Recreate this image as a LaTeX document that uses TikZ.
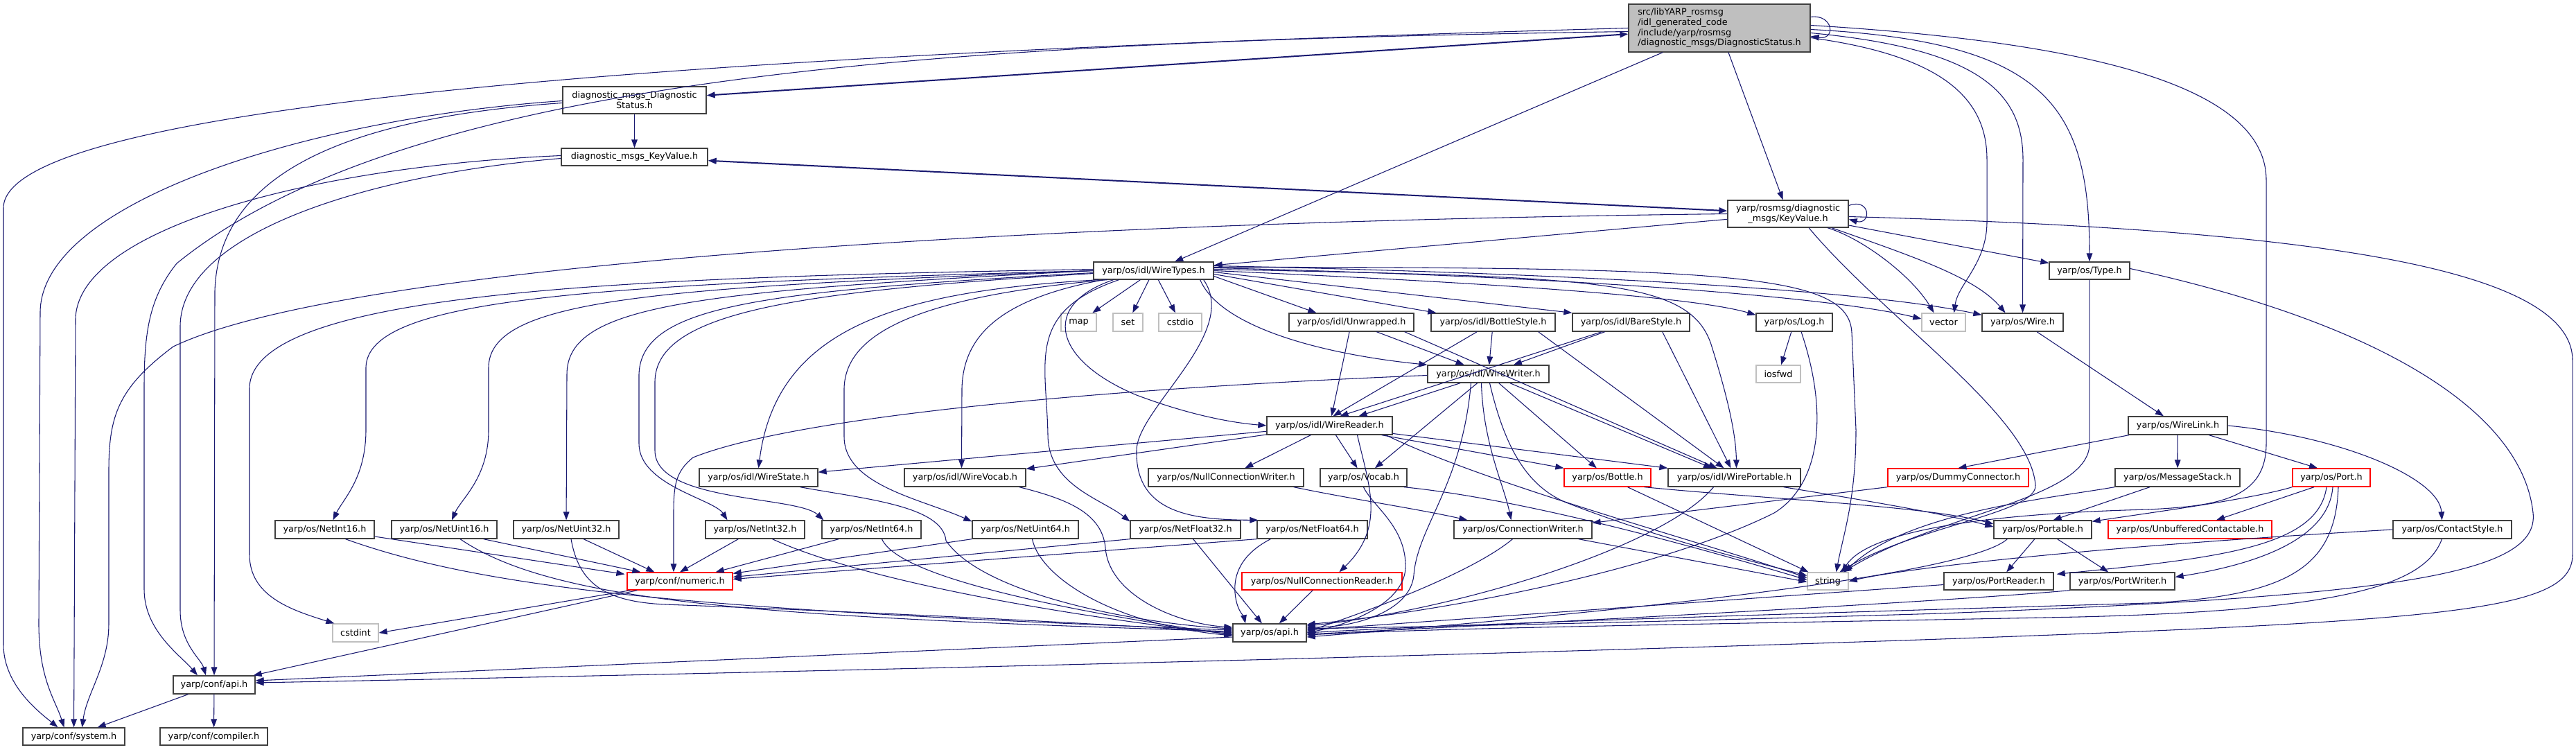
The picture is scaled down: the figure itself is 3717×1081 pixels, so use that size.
\documentclass[tikz,border=0pt]{standalone}
\usepackage{fontspec}
\setmainfont{DejaVu Sans}
\usetikzlibrary{arrows.meta,calc}
\definecolor{edgec}{HTML}{191970}
\definecolor{bord}{HTML}{404040}
\definecolor{lite}{HTML}{BFBFBF}
\tikzset{
 nbox/.style={draw=bord, fill=white, line width=1pt, inner sep=0pt, font=\fontsize{9.6}{11}\selectfont, align=center},
 rbox/.style={nbox, fill=lite, align=left},
 gbox/.style={nbox, draw=lite},
 xbox/.style={nbox, draw=red},
 edg/.style={draw=edgec, line width=0.8pt, -{Triangle[length=9pt,width=6.5pt]}},
 edgb/.style={draw=edgec, line width=1.5pt, {Triangle[length=9pt,width=6.5pt]}-{Triangle[length=9pt,width=6.5pt]}},
}
\newcommand\nd[7]{\node[#6, minimum width={(#4-#2)*0.75pt}, minimum height={(#5-#3)*0.75pt}] (#1) at ({(#2+#4)/2},{(#3+#5)/2}) {#7};}
\begin{document}
\begin{tikzpicture}[x=0.75pt,y=-0.75pt]
\useasboundingbox[fill=white] (0,0) rectangle (3717,1081);
% nodes
\nd{root}{2350}{6}{2612}{75}{rbox}{src/libYARP\_rosmsg\\/idl\_generated\_code\\/include/yarp/rosmsg\\/diagnostic\_msgs/DiagnosticStatus.h}
\nd{DS}{812}{125}{1019}{164}{nbox}{diagnostic\_msgs\_Diagnostic\\Status.h}
\nd{KV}{810}{214}{1021}{239}{nbox}{diagnostic\_msgs\_KeyValue.h}
\nd{KR}{2493}{289}{2667}{328}{nbox}{yarp/rosmsg/diagnostic\\\_msgs/KeyValue.h}
\nd{WT}{1578}{378}{1751}{403}{nbox}{yarp/os/idl/WireTypes.h}
\nd{Type}{2957}{378}{3073}{403}{nbox}{yarp/os/Type.h}
\nd{map}{1531}{452}{1582}{478}{gbox}{map}
\nd{set}{1606}{452}{1649}{478}{gbox}{set}
\nd{cstdio}{1672}{452}{1734}{478}{gbox}{cstdio}
\nd{Unw}{1860}{452}{2040}{478}{nbox}{yarp/os/idl/Unwrapped.h}
\nd{BotS}{2065}{452}{2244}{478}{nbox}{yarp/os/idl/BottleStyle.h}
\nd{BareS}{2269}{452}{2438}{478}{nbox}{yarp/os/idl/BareStyle.h}
\nd{Log}{2534}{452}{2644}{478}{nbox}{yarp/os/Log.h}
\nd{vector}{2773}{452}{2836}{478}{gbox}{vector}
\nd{Wire}{2860}{452}{2977}{478}{nbox}{yarp/os/Wire.h}
\nd{WW}{2060}{527}{2235}{552}{nbox}{yarp/os/idl/WireWriter.h}
\nd{iosfwd}{2534}{527}{2598}{552}{gbox}{iosfwd}
\nd{WR}{1828}{601}{2009}{627}{nbox}{yarp/os/idl/WireReader.h}
\nd{WL}{3071}{601}{3214}{627}{nbox}{yarp/os/WireLink.h}
\nd{WS}{1009}{676}{1180}{702}{nbox}{yarp/os/idl/WireState.h}
\nd{WV}{1305}{676}{1480}{702}{nbox}{yarp/os/idl/WireVocab.h}
\nd{NCW}{1657}{676}{1881}{702}{nbox}{yarp/os/NullConnectionWriter.h}
\nd{Vocab}{1905}{676}{2030}{702}{nbox}{yarp/os/Vocab.h}
\nd{Bottle}{2257}{676}{2382}{702}{xbox}{yarp/os/Bottle.h}
\nd{WP}{2407}{676}{2598}{702}{nbox}{yarp/os/idl/WirePortable.h}
\nd{Dummy}{2724}{676}{2927}{702}{xbox}{yarp/os/DummyConnector.h}
\nd{MS}{3052}{676}{3232}{702}{nbox}{yarp/os/MessageStack.h}
\nd{Port}{3308}{676}{3420}{702}{xbox}{yarp/os/Port.h}
\nd{NIa}{397}{751}{540}{777}{nbox}{yarp/os/NetInt16.h}
\nd{NUa}{565}{751}{717}{777}{nbox}{yarp/os/NetUint16.h}
\nd{NUb}{741}{751}{893}{777}{nbox}{yarp/os/NetUint32.h}
\nd{NIb}{1018}{751}{1161}{777}{nbox}{yarp/os/NetInt32.h}
\nd{NIc}{1186}{751}{1329}{777}{nbox}{yarp/os/NetInt64.h}
\nd{NUc}{1403}{751}{1556}{777}{nbox}{yarp/os/NetUint64.h}
\nd{NFa}{1631}{751}{1790}{777}{nbox}{yarp/os/NetFloat32.h}
\nd{NFb}{1814}{751}{1973}{777}{nbox}{yarp/os/NetFloat64.h}
\nd{CW}{2098}{751}{2297}{777}{nbox}{yarp/os/ConnectionWriter.h}
\nd{Portable}{2877}{751}{3018}{777}{nbox}{yarp/os/Portable.h}
\nd{Unbuf}{3042}{751}{3278}{777}{xbox}{yarp/os/UnbufferedContactable.h}
\nd{CS}{3453}{751}{3624}{777}{nbox}{yarp/os/ContactStyle.h}
\nd{numeric}{905}{826}{1057}{851}{xbox}{yarp/conf/numeric.h}
\nd{NCR}{1792}{826}{2023}{851}{xbox}{yarp/os/NullConnectionReader.h}
\nd{string}{2608}{826}{2667}{851}{gbox}{string}
\nd{PR}{2805}{826}{2963}{851}{nbox}{yarp/os/PortReader.h}
\nd{PW}{2987}{826}{3138}{851}{nbox}{yarp/os/PortWriter.h}
\nd{cstdint}{480}{900}{546}{926}{gbox}{cstdint}
\nd{osapi}{1779}{900}{1885}{926}{nbox}{yarp/os/api.h}
\nd{confapi}{250}{975}{368}{1001}{nbox}{yarp/conf/api.h}
\nd{system}{33}{1050}{180}{1075}{nbox}{yarp/conf/system.h}
\nd{compiler}{231}{1050}{386}{1075}{nbox}{yarp/conf/compiler.h}
% ---- edges: root
\draw[edgb] (DS) -- (root);
\draw[edg] (root.west) .. controls (1300,70) and (5,130) .. (5,300) -- (5,930) .. controls (5,990) and (60,1030) .. ($(system.north)+(-23,0)$);
\draw[edg] ($(root.west)+(0,5)$) .. controls (1400,60) and (600,100) .. (255,380) .. controls (215,430) and (208,480) .. (208,560) -- (208,850) .. controls (208,910) and (260,945) .. ($(confapi.north)+(-24,0)$);
\draw[edg] (root) -- (WT);
\draw[edg] (root) -- (KR);
\draw[edg] ($(root.east)+(0,-16)$) .. controls (2645,20) and (2650,58) .. ($(root.east)+(0,12)$);
\draw[edg] ($(root.east)+(0,2)$) .. controls (2950,60) and (3015,150) .. (Type.north);
\draw[edg] ($(root.east)+(0,7)$) .. controls (2850,70) and (2919,130) .. (2919,230) -- (Wire.north);
\draw[edg] ($(root.east)+(0,14)$) .. controls (2800,80) and (2867,140) .. (2867,230) -- (2867,320) .. controls (2867,380) and (2825,410) .. ($(vector.north)+(15,0)$);
\draw[edg] ($(root.east)+(0,-4)$) .. controls (3000,60) and (3270,120) .. (3270,260) -- (3270,640) .. controls (3270,720) and (3200,730) .. (3100,735) .. controls (2900,740) and (2700,760) .. ($(string.north)+(20,0)$);
% DS
\draw[edg] (DS) -- (KV);
\draw[edg] ($(DS.west)+(0,1)$) .. controls (450,170) and (60,290) .. (58,450) -- (56,900) .. controls (56,980) and (80,1010) .. ($(system.north)+(-14,0)$);
\draw[edg] ($(DS.west)+(0,4)$) .. controls (500,170) and (315,250) .. (310,420) -- (confapi);
% KV
\draw[edgb] (KV) -- (KR);
\draw[edg] ($(KV.west)+(0,-2)$) .. controls (450,240) and (112,330) .. (109,460) -- (system);
\draw[edg] ($(KV.west)+(0,2)$) .. controls (550,250) and (262,330) .. (260,470) -- (260,880) .. controls (260,930) and (290,950) .. ($(confapi.north)+(-12,0)$);
% KR
\draw[edg] ($(KR.east)+(0,-12)$) .. controls (2700,285) and (2700,325) .. ($(KR.east)+(0,8)$);
\draw[edg] (KR) -- (WT);
\draw[edg] (KR.west) .. controls (1500,320) and (500,380) .. (250,500) .. controls (170,560) and (157,600) .. (157,680) -- (157,900) .. controls (157,960) and (125,1000) .. ($(system.north)+(12,0)$);
\draw[edg] ($(KR.east)+(0,4)$) .. controls (3300,330) and (3712,380) .. (3712,520) -- (3712,800) .. controls (3712,880) and (3550,895) .. (2800,922) .. controls (2000,950) and (900,975) .. ($(confapi.east)+(0,-3)$);
\draw[edg] (KR) -- (Type);
\draw[edg] ($(KR.south)+(57,0)$) .. controls (2690,345) and (2760,400) .. ($(vector.north)+(-14,0)$);
\draw[edg] ($(KR.south)+(63,0)$) .. controls (2760,370) and (2850,400) .. ($(Wire.north)+(-25,0)$);
\draw[edg] ($(KR.south)+(30,0)$) .. controls (2720,460) and (2930,600) .. (2937,700) .. controls (2940,740) and (2760,760) .. ($(string.north)+(17,0)$);
% WT
\draw[edg] (WT) -- (map);
\draw[edg] (WT) -- (set);
\draw[edg] (WT) -- (cstdio);
\draw[edg] ($(WT.south)+(-58,0)$) .. controls (1500,440) and (1520,520) .. (1640,570) .. controls (1720,600) and (1780,610) .. (WR.west);
\draw[edg] ($(WT.south west)+(8,0)$) .. controls (1300,420) and (1120,470) .. (WS.north);
\draw[edg] ($(WT.south west)+(15,0)$) .. controls (1450,430) and (1390,480) .. (1388,560) -- ($(WV.north)+(-5,0)$);
\draw[edg] ($(WT.west)+(0,-2)$) .. controls (900,400) and (362,420) .. (360,560) -- (360,800) .. controls (360,860) and (420,880) .. ($(cstdint.north west)+(3,0)$);
\draw[edg] (WT.west) .. controls (850,410) and (530,430) .. (528,530) -- (528,620) .. controls (528,690) and (495,720) .. ($(NIa.north)+(12,0)$);
\draw[edg] (WT.west) .. controls (950,415) and (706,430) .. (705,530) -- (705,620) .. controls (705,690) and (665,720) .. ($(NUa.north)+(11,0)$);
\draw[edg] (WT.west) .. controls (1000,420) and (818,440) .. (818,540) -- (NUb);
\draw[edg] ($(WT.west)+(0,3)$) .. controls (1100,420) and (925,440) .. (922,540) -- (922,640) .. controls (922,700) and (1030,720) .. ($(NIb.north)+(-40,0)$);
\draw[edg] ($(WT.west)+(0,4)$) .. controls (1150,420) and (947,450) .. (945,550) -- (945,650) .. controls (945,725) and (1150,715) .. ($(NIc.north west)+(3,0)$);
\draw[edg] ($(WT.south west)+(20,0)$) .. controls (1300,430) and (1220,490) .. (1218,560) -- (1218,630) .. controls (1218,700) and (1330,720) .. ($(NUc.north west)+(0,2)$);
\draw[edg] ($(WT.south)+(-50,0)$) .. controls (1480,450) and (1510,520) .. (1512,627) .. controls (1512,700) and (1590,720) .. ($(NFa.north west)+(0,2)$);
\draw[edg] ($(WT.south east)+(-15,0)$) .. controls (1790,480) and (1640,590) .. (1640,650) .. controls (1638,740) and (1720,750) .. ($(NFb.north west)+(2,0)$);
\draw[edg] ($(WT.east)+(0,8)$) -- ($(Unw.north west)+(40,0)$);
\draw[edg] ($(WT.east)+(0,5)$) -- ($(BotS.north west)+(8,0)$);
\draw[edg] ($(WT.east)+(0,2)$) -- (BareS.north west);
\draw[edg] ($(WT.east)+(0,0)$) .. controls (2200,410) and (2450,430) .. ($(Log.north west)+(0,3)$);
\draw[edg] ($(WT.east)+(0,-4)$) .. controls (2300,400) and (2650,430) .. ($(vector.west)+(0,-5)$);
\draw[edg] ($(WT.east)+(0,-7)$) .. controls (2300,395) and (2700,420) .. ($(Wire.north west)+(0,3)$);
\draw[edg] ($(WT.south east)+(-20,0)$) .. controls (1760,470) and (1900,510) .. (WW.north west);
\draw[edg] ($(WT.east)+(0,-2)$) .. controls (2300,400) and (2440,400) .. (2470,500) .. controls (2495,580) and (2505,630) .. ($(WP.north)+(3,0)$);
\draw[edg] ($(WT.east)+(0,-5)$) .. controls (2500,385) and (2668,395) .. (2672,480) -- (2678,620) .. controls (2678,720) and (2660,770) .. ($(string.north)+(12,0)$);
% style headers
\draw[edg] (Unw) -- (WR);
\draw[edg] (Unw) -- (WW);
\draw[edg] ($(Unw.south east)+(-14,0)$) -- ($(WP.north)+(-25,0)$);
\draw[edg] (BotS) -- ($(WR.north)+(5,0)$);
\draw[edg] (BotS) -- (WW);
\draw[edg] ($(BotS.south east)+(-25,0)$) -- ($(WP.north)+(-15,0)$);
\draw[edg] (BareS) -- ($(WR.north)+(15,0)$);
\draw[edg] (BareS) -- (WW);
\draw[edg] ($(BareS.south east)+(-40,0)$) -- ($(WP.north)+(-5,0)$);
\draw[edg] (Log) -- (iosfwd);
\draw[edg] ($(Log.south)+(10,0)$) .. controls (2640,600) and (2625,700) .. (2560,740) .. controls (2400,820) and (2100,880) .. ($(osapi.east)+(0,-12)$);
% WireWriter
\draw[edg] (WW) -- (WR);
\draw[edg] (WW) -- (Vocab);
\draw[edg] (WW) -- (Bottle);
\draw[edg] (WW) -- (WP);
\draw[edg] ($(WW.west)+(0,2)$) .. controls (1600,560) and (1150,600) .. (1000,660) .. controls (975,680) and (972,700) .. (972,740) -- ($(numeric.north)+(-9,0)$);
\draw[edg] ($(WW.south)+(-10,0)$) .. controls (2140,640) and (2170,700) .. ($(CW.north)+(-17,0)$);
\draw[edg] ($(WW.south)+(-25,0)$) .. controls (2110,700) and (2045,760) .. (2040,830) .. controls (2035,880) and (1960,905) .. ($(osapi.east)+(0,-8)$);
\draw[edg] ($(WW.south)+(2,0)$) .. controls (2170,640) and (2200,700) .. (2260,725) .. controls (2400,780) and (2550,815) .. ($(string.west)+(0,-8)$);
% WireReader
\draw[edg] (WR) -- (WS);
\draw[edg] (WR) -- (WV);
\draw[edg] (WR) -- (NCW);
\draw[edg] (WR) -- (Vocab);
\draw[edg] (WR) -- (Bottle.north west);
\draw[edg] (WR) -- (WP.north west);
\draw[edg] ($(WR.south)+(40,0)$) .. controls (1975,700) and (2000,760) .. ($(NCR.north)+(25,0)$);
\draw[edg] ($(WR.south east)+(-10,0)$) .. controls (2150,700) and (2450,780) .. ($(string.west)+(0,-5)$);
% other mid
\draw[edg] (Wire) -- (WL);
\draw[edg] (WL) -- (Dummy.north);
\draw[edg] (WL) -- (MS);
\draw[edg] (WL) -- ($(Port.north)+(-20,0)$);
\draw[edg] (WL.east) .. controls (3380,630) and (3520,690) .. ($(CS.north)+(-15,0)$);
\draw[edg] (Type.south) -- (3015,640) .. controls (3015,720) and (2800,740) .. ($(string.north)+(22,0)$);
\draw[edg] ($(Type.east)+(0,-3)$) .. controls (3450,470) and (3640,600) .. (3655,740) .. controls (3665,830) and (3450,860) .. (2800,885) .. controls (2300,900) and (2000,905) .. ($(osapi.east)+(0,-6)$);
\draw[edg] ($(NCW.south east)+(-15,0)$) .. controls (1950,720) and (2050,735) .. ($(CW.north west)+(20,0)$);
\draw[edg] (Vocab.south) .. controls (1980,730) and (2030,760) .. (2028,820) .. controls (2025,870) and (1950,900) .. (osapi.east);
\draw[edg] ($(Vocab.south east)+(-5,0)$) .. controls (2200,720) and (2450,790) .. ($(string.west)+(0,-2)$);
\draw[edg] (Bottle) -- (string);
\draw[edg] ($(Bottle.south east)+(-10,0)$) .. controls (2550,720) and (2780,730) .. ($(Portable.west)+(0,-8)$);
\draw[edg] ($(WP.south east)+(-25,0)$) .. controls (2680,720) and (2800,740) .. ($(Portable.west)+(0,-4)$);
\draw[edg] ($(WP.south)+(-30,0)$) .. controls (2400,790) and (2100,880) .. ($(osapi.east)+(0,-10)$);
\draw[edg] (Dummy.south west) -- ($(CW.north east)+(0,4)$);
\draw[edg] (MS) -- ($(Portable.north)+(15,0)$);
\draw[edg] (MS.south west) .. controls (2950,720) and (2750,740) .. ($(string.north)+(24,0)$);
\draw[edg] (Port.south west) .. controls (3250,720) and (3100,740) .. ($(Portable.north east)+(0,2)$);
\draw[edg] ($(Port.south)+(-25,0)$) -- ($(Unbuf.north)+(38,0)$);
\draw[edg] ($(Port.south)+(-7,0)$) .. controls (3345,790) and (3200,805) .. ($(PR.north east)+(4,3)$);
\draw[edg] ($(Port.south)+(2,0)$) .. controls (3360,780) and (3250,815) .. ($(PW.east)+(0,-6)$);
\draw[edg] ($(Port.south)+(10,0)$) .. controls (3370,820) and (3300,860) .. (3100,870) .. controls (2600,885) and (2100,900) .. ($(osapi.east)+(0,0)$);
\draw[edg] (CS.west) .. controls (3000,790) and (2750,820) .. (string.east);
\draw[edg] ($(CS.south)+(-15,0)$) .. controls (3500,840) and (3400,880) .. (3000,890) .. controls (2500,900) and (2100,905) .. ($(osapi.east)+(0,3)$);
\draw[edg] (Portable) -- (PR);
\draw[edg] (Portable) -- (PW);
\draw[edg] ($(Portable.south west)+(20,0)$) .. controls (2850,820) and (2500,870) .. ($(osapi.east)+(0,6)$);
\draw[edg] ($(PR.west)+(0,5)$) -- ($(osapi.east)+(0,-4)$);
\draw[edg] (PW.south west) .. controls (2900,860) and (2600,880) .. ($(osapi.east)+(0,2)$);
\draw[edg] ($(CW.south)+(-15,0)$) .. controls (2120,830) and (1950,890) .. ($(osapi.east)+(0,-2)$);
\draw[edg] ($(CW.south east)+(-20,0)$) -- ($(string.west)+(0,1)$);
% net types
\draw[edg] ($(NIa.east)+(0,10)$) -- ($(numeric.north west)+(-3,3)$);
\draw[edg] ($(NIa.south)+(30,0)$) .. controls (700,850) and (1000,880) .. ($(osapi.west)+(0,-4)$);
\draw[edg] ($(NUa.south east)+(-20,0)$) -- ($(numeric.north west)+(20,0)$);
\draw[edg] ($(NUa.south)+(23,0)$) .. controls (800,870) and (1100,890) .. ($(osapi.west)+(0,-2)$);
\draw[edg] ($(NUb.south)+(25,0)$) -- ($(numeric.north west)+(40,0)$);
\draw[edg] ($(NUb.south)+(7,0)$) .. controls (835,840) and (870,868) .. (960,872) .. controls (1300,885) and (1600,900) .. (osapi.west);
\draw[edg] (NIb) -- ($(numeric.north)+(0,0)$);
\draw[edg] ($(NIb.south)+(25,0)$) .. controls (1250,840) and (1550,890) .. ($(osapi.west)+(0,2)$);
\draw[edg] ($(NIc.south west)+(25,0)$) -- ($(numeric.north east)+(-25,0)$);
\draw[edg] ($(NIc.south)+(15,0)$) .. controls (1300,840) and (1600,890) .. ($(osapi.west)+(0,3)$);
\draw[edg] (NUc.south west) -- ($(numeric.north east)+(0,2)$);
\draw[edg] ($(NUc.south)+(10,0)$) .. controls (1500,830) and (1600,900) .. ($(osapi.west)+(0,4)$);
\draw[edg] (NFa.south west) -- ($(numeric.east)+(0,-6)$);
\draw[edg] (NFa) -- (osapi);
\draw[edg] (NFb.south west) -- ($(numeric.east)+(0,-3)$);
\draw[edg] ($(NFb.south west)+(20,0)$) .. controls (1790,800) and (1780,830) .. (1782,855) .. controls (1784,880) and (1795,890) .. ($(osapi.north)+(-35,0)$);
\draw[edg] ($(numeric.south west)+(5,0)$) -- (cstdint.east);
\draw[edg] ($(numeric.south west)+(15,0)$) -- ($(confapi.north east)+(-3,0)$);
\draw[edg] (NCR) -- (osapi);
\draw[edg] ($(WS.south)+(60,0)$) .. controls (1250,720) and (1360,730) .. (1365,780) .. controls (1420,860) and (1650,900) .. ($(osapi.west)+(0,-6)$);
\draw[edg] ($(WV.south east)+(-10,0)$) .. controls (1540,720) and (1590,740) .. (1595,790) .. controls (1600,860) and (1700,900) .. ($(osapi.west)+(0,-8)$);
\draw[edg] ($(osapi.west)+(0,6)$) -- ($(confapi.east)+(0,-6)$);
\draw[edg] (confapi) -- ($(system.north east)+(-40,0)$);
\draw[edg] (confapi) -- (compiler);
\end{tikzpicture}
\end{document}
